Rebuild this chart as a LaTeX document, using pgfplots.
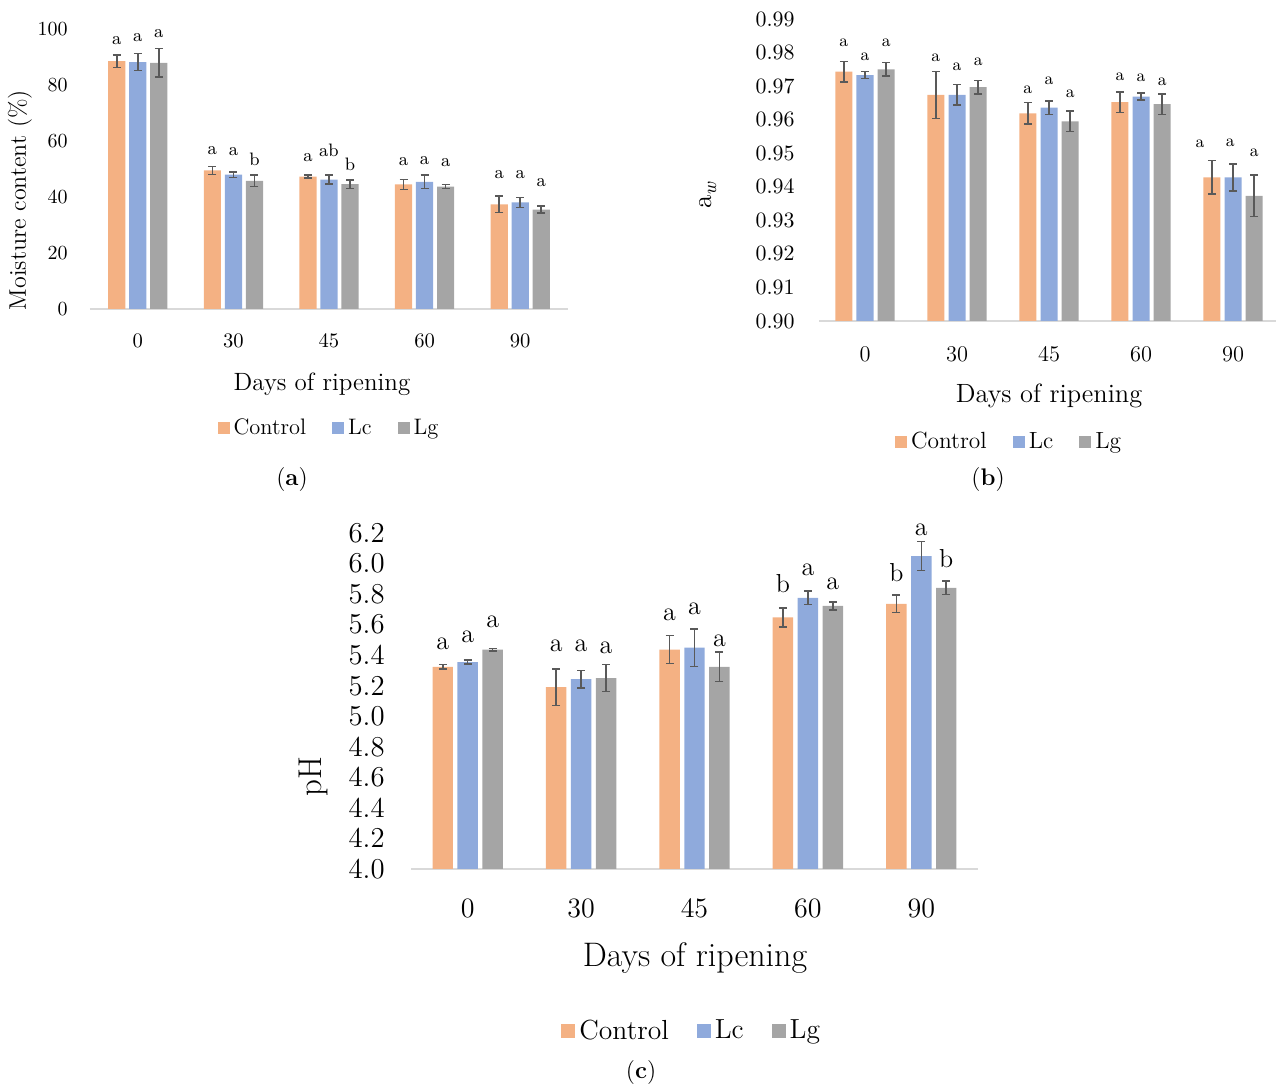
\documentclass[border=0pt]{standalone}
\usepackage{pgfplots}
\pgfplotsset{compat=1.18}
\definecolor{cOr}{HTML}{F4B183}
\definecolor{cBl}{HTML}{8FAADC}
\definecolor{cGr}{HTML}{A5A5A5}
\definecolor{cEr}{HTML}{595959}
\definecolor{cAx}{HTML}{D9D9D9}
\newcommand{\fs}[1]{\fontsize{#1}{#1}\selectfont}
\newcommand{\lab}[3]{\node[lt] at (axis cs:#1,#2) {#3};}
\pgfplotsset{
  mybar/.style={
    scale only axis, clip=true, clip mode=individual, ybar,
    xmin=-0.5, xtick={0,1,2,3,4}, xticklabels={0,30,45,60,90},
    axis x line*=bottom, axis y line*=left,
    x axis line style={draw=cAx, line width=1pt, -},
    y axis line style={draw=none},
    major tick length=0pt, tick style={draw=none},
    xticklabel style={anchor=center, inner sep=0pt},
    yticklabel style={anchor=east, inner sep=0pt},
    legend columns=3,
    legend style={draw=none, fill=none, anchor=center, inner sep=0pt,
      /tikz/every even column/.append style={column sep=11pt}},
    legend image code/.code={\fill[##1,draw=none] (0pt,-3pt) rectangle (6pt,3pt);},
  },
  ser/.style n args={3}{fill=#1, draw=none, bar shift=#2, bar width=#3,
    error bars/.cd, y dir=both, y explicit,
    error bar style={cEr, line width=0.75pt},
    error mark options={cEr, rotate=90, line width=0.75pt}},
}
\begin{document}
\begin{tikzpicture}
\path[use as bounding box] (0,0) rectangle (638pt,544pt);

% ---------------- (a)
\begin{axis}[mybar, at={(45pt,389.5pt)}, anchor=south west,
  width=239pt, height=140pt, xmax=4.5, ymin=0, ymax=100,
  ytick={0,20,40,60,80,100},
  tick label style={font=\fs{10.3}},
  xticklabel style={yshift=-16pt},
  yticklabel style={xshift=-11pt},
  error bars/error mark options={mark size=3pt},
  legend style={at={(axis description cs:0.502,-0.425)}, font=\fs{11.2}},
  /tikz/lt/.style={font=\fs{9}, inner sep=0pt}]
\addplot[ser={cOr}{-0.22}{0.18}] table[x=x,y=y,y error=e] {
x y e
0 88.5 2.2
1 49.5 1.4
2 47.3 0.6
3 44.5 1.8
4 37.4 3.0
};
\addplot[ser={cBl}{0}{0.18}] table[x=x,y=y,y error=e] {
x y e
0 88.2 3.1
1 48.0 1.0
2 46.2 1.6
3 45.4 2.4
4 38.1 1.8
};
\addplot[ser={cGr}{0.22}{0.18}] table[x=x,y=y,y error=e] {
x y e
0 87.9 5.1
1 45.8 2.1
2 44.6 1.5
3 43.7 0.7
4 35.5 1.2
};
\legend{Control,Lc,Lg}
\lab{-0.22}{95.8}{a}\lab{0}{97.0}{a}\lab{0.22}{98.2}{a}
\lab{0.78}{56.5}{a}\lab{1}{56.2}{a}\lab{1.22}{53.6}{b}
\lab{1.78}{54.2}{a}\lab{2}{56.5}{ab}\lab{2.22}{51.5}{b}
\lab{2.78}{52.7}{a}\lab{3}{53.0}{a}\lab{3.22}{52.4}{a}
\lab{3.78}{48.0}{a}\lab{4}{48.0}{a}\lab{4.22}{45.0}{a}
\end{axis}
\node[font=\fs{12.5}] at (161pt,352pt) {Days of ripening};
\node[font=\fs{12}, rotate=90] at (10pt,444pt) {Moisture content (\%)};
\node[font=\fs{12}] at (146pt,304pt) {(\textbf{a})};

% ---------------- (b)
\begin{axis}[mybar, at={(409.5pt,383.5pt)}, anchor=south west,
  width=228.5pt, height=151pt, xmax=4.467, ymin=0.90, ymax=0.99,
  ytick={0.90,0.91,0.92,0.93,0.94,0.95,0.96,0.97,0.98,0.99},
  /pgf/number format/fixed, /pgf/number format/fixed zerofill,
  /pgf/number format/precision=2,
  tick label style={font=\fs{11.2}},
  xticklabel style={yshift=-16.5pt},
  yticklabel style={xshift=-12pt},
  error bars/error mark options={mark size=2.5pt},
  legend style={at={(axis description cs:0.418,-0.401)}, font=\fs{11.7}},
  /tikz/lt/.style={font=\fs{8.5}, inner sep=0pt}]
\addplot[ser={cOr}{-0.23}{0.185}] table[x=x,y=y,y error=e] {
x y e
0 0.9743 0.0030
1 0.9674 0.0070
2 0.9619 0.0032
3 0.9652 0.0031
4 0.9428 0.0050
};
\addplot[ser={cBl}{0}{0.185}] table[x=x,y=y,y error=e] {
x y e
0 0.9733 0.0010
1 0.9674 0.0031
2 0.9636 0.0020
3 0.9669 0.0010
4 0.9428 0.0040
};
\addplot[ser={cGr}{0.23}{0.185}] table[x=x,y=y,y error=e] {
x y e
0 0.9750 0.0020
1 0.9697 0.0020
2 0.9595 0.0031
3 0.9646 0.0031
4 0.9373 0.0062
};
\legend{Control,Lc,Lg}
\lab{-0.23}{0.9828}{a}\lab{0}{0.9788}{a}\lab{0.23}{0.9830}{a}
\lab{0.77}{0.9783}{a}\lab{1}{0.9758}{a}\lab{1.23}{0.9773}{a}
\lab{1.77}{0.9689}{a}\lab{2}{0.9715}{a}\lab{2.23}{0.9676}{a}
\lab{2.77}{0.9728}{a}\lab{3}{0.9726}{a}\lab{3.23}{0.9713}{a}
\lab{3.64}{0.9527}{a}\lab{3.97}{0.9531}{a}\lab{4.23}{0.9500}{a}
\end{axis}
\node[font=\fs{13.2}] at (524.5pt,346pt) {Days of ripening};
\node[font=\fs{13.5}, rotate=90] at (354pt,446.5pt) {a\textsubscript{\textit{w}}};
\node[font=\fs{12}] at (494pt,304pt) {(\textbf{b})};

% ---------------- (c)
\begin{axis}[mybar, at={(205.5pt,109.5pt)}, anchor=south west,
  width=283.5pt, height=168pt, xmax=4.5, ymin=4.0, ymax=6.2,
  ytick={4.0,4.2,4.4,4.6,4.8,5.0,5.2,5.4,5.6,5.8,6.0,6.2},
  /pgf/number format/fixed, /pgf/number format/fixed zerofill,
  /pgf/number format/precision=1,
  tick label style={font=\fs{14}},
  xticklabel style={yshift=-19.5pt},
  yticklabel style={xshift=-13pt},
  error bars/error mark options={mark size=3.5pt},
  legend style={at={(axis description cs:0.497,-0.482)}, font=\fs{13.8},
    /tikz/every even column/.append style={column sep=12pt}},
  legend image code/.code={\fill[#1,draw=none] (0pt,-3.5pt) rectangle (7pt,3.5pt);},
  /tikz/lt/.style={font=\fs{13}, inner sep=0pt}]
\addplot[ser={cOr}{-0.22}{0.18}] table[x=x,y=y,y error=e] {
x y e
0 5.324 0.014
1 5.191 0.120
2 5.436 0.092
3 5.648 0.062
4 5.736 0.058
};
\addplot[ser={cBl}{0}{0.18}] table[x=x,y=y,y error=e] {
x y e
0 5.355 0.013
1 5.243 0.057
2 5.449 0.123
3 5.775 0.044
4 6.049 0.096
};
\addplot[ser={cGr}{0.22}{0.18}] table[x=x,y=y,y error=e] {
x y e
0 5.436 0.009
1 5.250 0.089
2 5.324 0.096
3 5.723 0.026
4 5.841 0.044
};
\legend{Control,Lc,Lg}
\lab{-0.22}{5.475}{a}\lab{0}{5.519}{a}\lab{0.22}{5.618}{a}
\lab{0.78}{5.458}{a}\lab{1}{5.458}{a}\lab{1.22}{5.447}{a}
\lab{1.78}{5.662}{a}\lab{2}{5.705}{a}\lab{2.22}{5.493}{a}
\lab{2.78}{5.870}{b}\lab{3}{5.961}{a}\lab{3.22}{5.870}{a}
\lab{3.78}{5.940}{b}\lab{4}{6.218}{a}\lab{4.22}{6.034}{b}
\end{axis}
\node[font=\fs{17}] at (347.5pt,65pt) {Days of ripening};
\node[font=\fs{16.5}, rotate=90] at (156.5pt,155.5pt) {pH};
\node[font=\fs{12}] at (320.5pt,7.5pt) {(\textbf{c})};
\end{tikzpicture}
\end{document}
